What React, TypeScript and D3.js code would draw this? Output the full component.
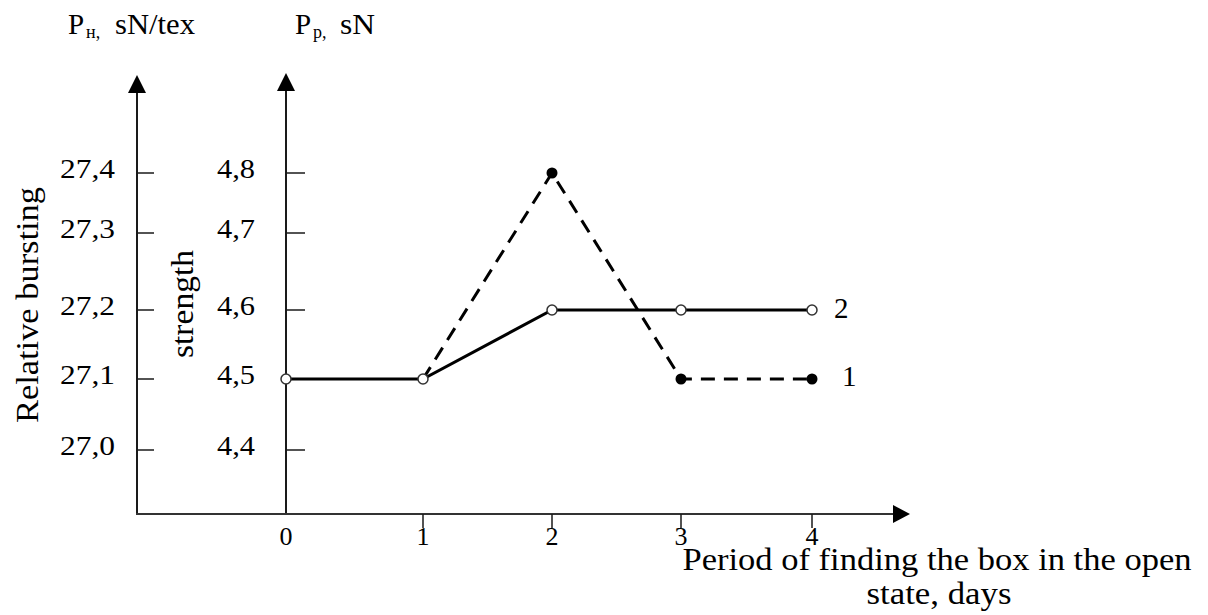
import React from "react";
import * as d3 from "d3";

// ---- data ----
const days = [0, 1, 2, 3, 4];
const dayLabels = ["0", "1", "2", "3", "4"];
// Series 2 (solid, open markers)
const series2Days = [0, 1, 2, 3, 4];
const series2Values = [4.5, 4.5, 4.6, 4.6, 4.6];
// Series 1 (dashed, filled markers)
const series1Days = [1, 2, 3, 4];
const series1Values = [4.5, 4.8, 4.5, 4.5];
const series1MarkerDays = [2, 3, 4];
const series1MarkerValues = [4.8, 4.5, 4.5];
// Axis ticks
const leftTicks = [27.0, 27.1, 27.2, 27.3, 27.4];
const leftTickLabels = ["27,0", "27,1", "27,2", "27,3", "27,4"];
const rightTicks = [4.4, 4.5, 4.6, 4.7, 4.8];
const rightTickLabels = ["4,4", "4,5", "4,6", "4,7", "4,8"];

const FONT = "'Liberation Serif', 'Times New Roman', serif";

export default function App() {
  React.useEffect(() => {
    document.body.style.margin = "0";
    document.body.style.overflow = "hidden";
  }, []);

  // scales (hand-drawn original: piecewise linear)
  const x = d3.scaleLinear().domain(days).range([286, 423, 552, 681, 812]);
  const yR = d3.scaleLinear().domain(rightTicks).range([450, 379, 310, 233, 173]);
  const yL = d3.scaleLinear().domain(leftTicks).range([450, 379, 310, 233, 173]);

  const line = d3
    .line<[number, number]>()
    .x((d) => x(d[0]))
    .y((d) => yR(d[1]));

  const s2 = series2Days.map((d, i) => [d, series2Values[i]] as [number, number]);
  const s1 = series1Days.map((d, i) => [d, series1Values[i]] as [number, number]);

  const axisColor = "#1a1a1a";
  const leftX = 137;
  const rightX = 286;
  const baseY = 514;

  return (
    <svg
      width={1208}
      height={615}
      style={{ position: "absolute", left: 0, top: 0, background: "#fff" }}
      fontFamily={FONT}
    >
      <rect x={0} y={0} width={1208} height={615} fill="#fff" />

      {/* top unit labels */}
      <text x={68} y={34} fontSize={29} fill="#000">P</text>
      <text x={86} y={38} fontSize={18} fill="#000">н,</text>
      <text x={115} y={34} fontSize={29} fill="#000" textLength={80} lengthAdjust="spacingAndGlyphs">sN/tex</text>
      <text x={295} y={34} fontSize={29} fill="#000">P</text>
      <text x={313} y={38} fontSize={18} fill="#000">p,</text>
      <text x={340} y={34} fontSize={29} fill="#000" textLength={35} lengthAdjust="spacingAndGlyphs">sN</text>

      {/* rotated axis titles */}
      <text
        x={38}
        y={305}
        transform="rotate(-90, 38, 305)"
        textAnchor="middle"
        fontSize={31}
        fill="#000"
        textLength={236}
        lengthAdjust="spacingAndGlyphs"
      >
        Relative bursting
      </text>
      <text
        x={193}
        y={304}
        transform="rotate(-90, 193, 304)"
        textAnchor="middle"
        fontSize={31}
        fill="#000"
        textLength={108}
        lengthAdjust="spacingAndGlyphs"
      >
        strength
      </text>

      {/* left axis */}
      <line x1={leftX} y1={baseY} x2={leftX} y2={90} stroke={axisColor} strokeWidth={2} />
      <polygon points={`${leftX},75 ${leftX - 9},93 ${leftX + 9},93`} fill="#000" />
      {leftTicks.map((t, i) => (
        <g key={"lt" + i}>
          <line x1={leftX} x2={leftX + 17} y1={yL(t)} y2={yL(t)} stroke={axisColor} strokeWidth={1.5} />
          <text
            x={115}
            y={yL(t) + 5}
            textAnchor="end"
            fontSize={28}
            fill="#000"
            textLength={55}
            lengthAdjust="spacingAndGlyphs"
          >
            {leftTickLabels[i]}
          </text>
        </g>
      ))}

      {/* right axis */}
      <line x1={rightX} y1={baseY} x2={rightX} y2={88} stroke={axisColor} strokeWidth={2} />
      <polygon points={`${rightX},73 ${rightX - 9},91 ${rightX + 9},91`} fill="#000" />
      {rightTicks.map((t, i) => (
        <g key={"rt" + i}>
          <line x1={rightX} x2={rightX + 19} y1={yR(t)} y2={yR(t)} stroke={axisColor} strokeWidth={1.5} />
          <text
            x={255}
            y={yR(t) + 5}
            textAnchor="end"
            fontSize={28}
            fill="#000"
            textLength={38}
            lengthAdjust="spacingAndGlyphs"
          >
            {rightTickLabels[i]}
          </text>
        </g>
      ))}

      {/* x axis */}
      <line x1={leftX - 1} y1={baseY} x2={896} y2={baseY} stroke="#333" strokeWidth={2} />
      <polygon points={`910,${baseY} 893,${baseY - 9} 893,${baseY + 9}`} fill="#000" />
      {days.map((d, i) => (
        <g key={"xt" + i}>
          {d !== 0 && (
            <line x1={x(d)} x2={x(d)} y1={baseY} y2={baseY + 14} stroke={axisColor} strokeWidth={1.5} />
          )}
          <text x={x(d)} y={545} textAnchor="middle" fontSize={26} fill="#000">
            {dayLabels[i]}
          </text>
        </g>
      ))}

      {/* x axis title */}
      <text x={937} y={570} textAnchor="middle" fontSize={31} fill="#000" textLength={509} lengthAdjust="spacingAndGlyphs">
        Period of finding the box in the open
      </text>
      <text x={939} y={604} textAnchor="middle" fontSize={31} fill="#000" textLength={145} lengthAdjust="spacingAndGlyphs">
        state, days
      </text>

      {/* series 1: dashed */}
      <path d={line(s1) || ""} fill="none" stroke="#000" strokeWidth={3} strokeDasharray="14 9" />
      {/* series 2: solid */}
      <path d={line(s2) || ""} fill="none" stroke="#000" strokeWidth={3} />

      {/* series 1 markers */}
      {series1MarkerDays.map((d, i) => (
        <circle key={"m1" + i} cx={x(d)} cy={yR(series1MarkerValues[i])} r={5.5} fill="#000" />
      ))}
      {/* series 2 markers */}
      {s2.map((p, i) => (
        <circle key={"m2" + i} cx={x(p[0])} cy={yR(p[1])} r={5} fill="#fff" stroke="#333" strokeWidth={1.5} />
      ))}

      {/* series labels */}
      <text x={834} y={318} fontSize={29} fill="#000">2</text>
      <text x={842} y={386} fontSize={29} fill="#000">1</text>
    </svg>
  );
}
